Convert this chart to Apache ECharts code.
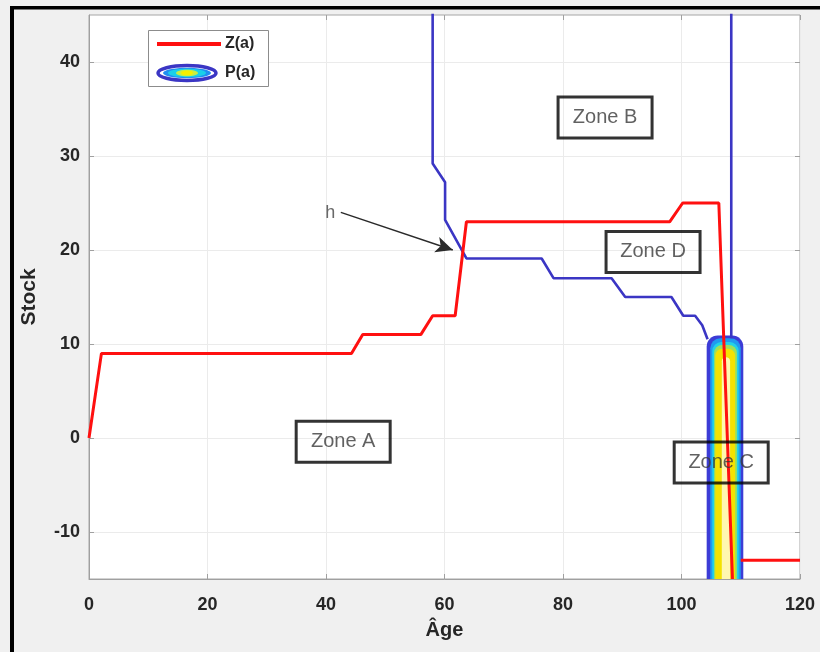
<!DOCTYPE html>
<html>
<head>
<meta charset="utf-8">
<script src="https://cdn.jsdelivr.net/npm/echarts@6/dist/echarts.min.js"></script>
<style>html,body{margin:0;padding:0;background:#f0f0f0;}#c{width:820px;height:652px;}</style>
</head>
<body>
<div id="c"></div>
<script>
// ---- data ----
const xTicks = [0, 20, 40, 60, 80, 100, 120];
const yTicks = [-10, 0, 10, 20, 30, 40];

// Z(a) red curve
const zAge   = [0, 2.1, 44.3, 46.2, 56, 58, 61.8, 63.7, 98, 100.2, 106.3, 108.6];
const zStock = [0, 9, 9, 11, 11, 13, 13, 23, 23, 25, 25, -15];
const zTailAge   = [110, 120];
const zTailStock = [-13, -13];

// P(a) blue boundary
const pAge   = [58, 58, 60.1, 60.1, 63.7, 76.4, 78.4, 88.2, 90.5, 98.3, 100.3, 102.3, 103.5, 104.4];
const pStock = [46, 29.2, 27.2, 23.2, 19.1, 19.1, 17, 17, 15, 15, 13, 13, 12, 10.5];
const pRightAge   = [108.4, 108.4];
const pRightStock = [46, 10.6];

// P(a) contour bands (outer to inner)
const bandLeft   = [104.25, 104.85, 105.2, 105.5, 105.7, 106.8];
const bandRight  = [110.43, 110.0, 109.65, 109.35, 109.05, 108.2];
const bandTop    = [10.9, 10.6, 10.2, 9.9, 9.5, 8.6];
const bandColors = ['#3c3cd6', '#1f9af0', '#22d2e6', '#9ee05a', '#f4e200', '#fff7b0'];

// zone labels
const zoneAge   = [42.9, 87.1, 95.2, 106.7];
const zoneStock = [-0.4, 34.1, 19.8, -2.6];
const zoneNames = ['Zone A', 'Zone B', 'Zone D', 'Zone C'];

// annotation
const annoAge = [40.7], annoStock = [23.9], annoText = ['h'];
const arrowFrom = [42.5, 24.0], arrowTo = [61.4, 20.0];

const FONT = "'Liberation Sans', Arial, sans-serif";
const zip = (a, b) => a.map((v, i) => [v, b[i]]);

const chart = echarts.init(document.getElementById('c'));
chart.setOption({
  animation: false,
  backgroundColor: '#f0f0f0',
  grid: { left: 89, top: 15, right: 20, bottom: 73, show: true, backgroundColor: '#ffffff', borderColor: '#a6a6a6', borderWidth: 1 },
  xAxis: [{
    type: 'value', min: 0, max: 120, interval: 20,
    name: 'Âge', nameLocation: 'middle', nameGap: 41,
    nameTextStyle: { fontFamily: FONT, fontWeight: 'bold', fontSize: 20, color: '#262626' },
    axisLine: { show: true, onZero: false, lineStyle: { color: '#a0a0a0' } },
    axisTick: { show: true, inside: true, length: 5, lineStyle: { color: '#a0a0a0' } },
    axisLabel: { margin: 17, fontFamily: FONT, fontWeight: 'bold', fontSize: 18, color: '#262626' },
    splitLine: { show: true, lineStyle: { color: '#ebebeb', width: 1 } }
  }, {
    type: 'value', min: 0, max: 120, interval: 20, position: 'top',
    axisLine: { show: false, onZero: false }, axisTick: { show: true, inside: true, length: 5, lineStyle: { color: '#a0a0a0' } },
    axisLabel: { show: false }, splitLine: { show: false }
  }],
  yAxis: [{
    type: 'value', min: -15, max: 45,
    name: 'Stock', nameLocation: 'middle', nameGap: 49,
    nameTextStyle: { fontFamily: FONT, fontWeight: 'bold', fontSize: 21, color: '#262626' },
    axisLine: { show: true, onZero: false, lineStyle: { color: '#a0a0a0' } },
    axisTick: { show: true, inside: true, length: 5, customValues: yTicks, lineStyle: { color: '#a0a0a0' } },
    axisLabel: { margin: 9, customValues: yTicks, fontFamily: FONT, fontWeight: 'bold', fontSize: 18, color: '#262626' },
    splitLine: { show: true, lineStyle: { color: '#ebebeb', width: 1 } }
  }, {
    type: 'value', min: -15, max: 45, position: 'right',
    axisLine: { show: false, onZero: false },
    axisTick: { show: true, inside: true, length: 5, customValues: yTicks, lineStyle: { color: '#a0a0a0' } },
    axisLabel: { show: false, customValues: yTicks }, splitLine: { show: false }
  }],
  series: [
    {
      type: 'custom', name: 'P(a)', z: 2, clip: true,
      data: bandLeft.map((l, i) => [l, bandRight[i], bandTop[i], i]),
      encode: { x: [0, 1], y: 2 },
      renderItem: function (params, api) {
        const i = api.value(3);
        const p1 = api.coord([api.value(0), api.value(2)]);
        const p2 = api.coord([api.value(1), -15]);
        const w = p2[0] - p1[0];
        const r = Math.min(w / 2, 11 - i);
        return {
          type: 'rect',
          shape: { x: p1[0], y: p1[1], width: w, height: p2[1] - p1[1], r: [r, r, 0, 0] },
          style: { fill: bandColors[i] }
        };
      }
    },
    {
      type: 'line', name: 'P(a)', data: zip(pAge, pStock), z: 3,
      symbol: 'none', lineStyle: { color: '#3b36c4', width: 2.6 }
    },
    {
      type: 'line', name: 'P(a)', data: zip(pRightAge, pRightStock), z: 3,
      symbol: 'none', lineStyle: { color: '#3b36c4', width: 2.6 }
    },
    {
      type: 'line', name: 'Z(a)', data: zip(zAge, zStock), z: 4,
      symbol: 'none', lineStyle: { color: '#ff1010', width: 3 }
    },
    {
      type: 'line', name: 'Z(a)', data: zip(zTailAge, zTailStock), z: 4,
      symbol: 'none', lineStyle: { color: '#ff1010', width: 3 }
    },
    {
      type: 'line', name: 'arrow', data: [], z: 5,
      markLine: {
        silent: true, symbol: ['none', 'arrow'], symbolSize: [12, 17],
        lineStyle: { color: '#2a2a2a', width: 1.5, type: 'solid' },
        label: { show: false },
        data: [[{ coord: arrowFrom }, { coord: arrowTo }]]
      }
    },
    {
      type: 'scatter', name: 'anno', symbolSize: 0, z: 6,
      data: annoAge.map((a, i) => ({ value: [a, annoStock[i]], name: annoText[i] })),
      label: { show: true, position: 'inside', formatter: p => p.name, fontFamily: FONT, fontSize: 18, color: '#444' }
    },
    {
      type: 'scatter', name: 'zones', symbolSize: 0, z: 7,
      data: zoneAge.map((a, i) => ({ value: [a, zoneStock[i]], name: zoneNames[i] })),
      label: {
        show: true, position: 'inside', formatter: p => p.name,
        fontFamily: FONT, fontSize: 20, color: '#3a3a3a',
        borderColor: '#000', borderWidth: 3, width: 94, height: 41, lineHeight: 41,
        align: 'center', verticalAlign: 'middle'
      }
    }
  ],
  graphic: [
    { type: 'rect', z: 100, shape: { x: 10, y: 6, width: 4, height: 660 }, style: { fill: '#000' } },
    { type: 'rect', z: 100, shape: { x: 10, y: 6, width: 820, height: 3.5 }, style: { fill: '#000' } },
    { type: 'rect', z: 100, shape: { x: 148.5, y: 30.5, width: 120, height: 56 }, style: { fill: '#fff', stroke: '#8c8c8c', lineWidth: 1 } },
    { type: 'line', z: 101, shape: { x1: 157, y1: 44, x2: 221, y2: 44 }, style: { stroke: '#ff1010', lineWidth: 4 } },
    { type: 'text', z: 101, x: 225, y: 44, style: { text: 'Z(a)', font: "bold 16px " + FONT, fill: '#262626', verticalAlign: 'middle' } },
    { type: 'ellipse', z: 101, shape: { cx: 187, cy: 73, rx: 29, ry: 7.5 }, style: { fill: '#fff', stroke: '#3b36c4', lineWidth: 3.5 } },
    { type: 'ellipse', z: 102, shape: { cx: 187, cy: 73, rx: 24, ry: 5.2 }, style: { fill: '#1f8ef2' } },
    { type: 'ellipse', z: 103, shape: { cx: 187, cy: 73, rx: 19, ry: 4.2 }, style: { fill: '#1ad0e8' } },
    { type: 'ellipse', z: 104, shape: { cx: 187, cy: 73, rx: 11, ry: 3.3 }, style: { fill: '#c6ee46' } },
    { type: 'ellipse', z: 105, shape: { cx: 187, cy: 73, rx: 6, ry: 2.4 }, style: { fill: '#f6f000' } },
    { type: 'text', z: 101, x: 225, y: 73, style: { text: 'P(a)', font: "bold 16px " + FONT, fill: '#262626', verticalAlign: 'middle' } }
  ]
});
</script>
</body>
</html>
